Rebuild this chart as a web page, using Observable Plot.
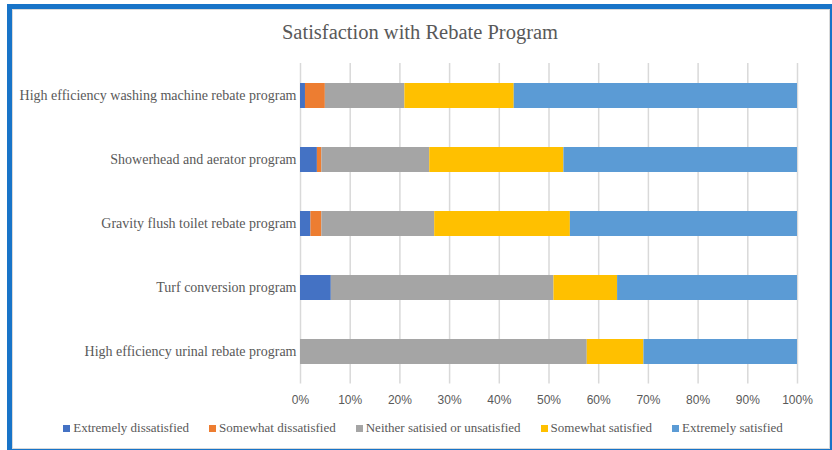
<!DOCTYPE html>
<html>
<head>
<meta charset="utf-8">
<script src="https://cdn.jsdelivr.net/npm/d3@7"></script>
<script src="https://cdn.jsdelivr.net/npm/@observablehq/plot@0.6"></script>
<style>
  html, body { margin: 0; padding: 0; background: #fff; }
  #wrap { position: relative; width: 832px; height: 450px; overflow: hidden; background: #fff; }
  #frame { position: absolute; left: 7px; top: 4px; width: 818px; height: 440px; border: 5px solid #1874C8; box-shadow: inset 0 0 0 1px #d9d9d9; }
  #title { position: absolute; left: 0; width: 840px; top: 21px; text-align: center; font-family: "Liberation Serif", "Times New Roman", serif; font-size: 20.5px; color: #595959; }
  #chart { position: absolute; left: 0; top: 0; }
  #legend { position: absolute; left: 0; width: 846px; top: 420px; display: flex; justify-content: center; gap: 20px; font-family: "Liberation Serif", "Times New Roman", serif; font-size: 13px; color: #595959; }
  #legend .item { display: flex; align-items: center; white-space: nowrap; font-family: "Liberation Serif", serif; }
  #legend .sw { width: 7px; height: 7px; margin-right: 3px; }
</style>
</head>
<body>
<div id="wrap">
  <div id="frame"></div>
  <div id="chart"></div>
  <div id="title">Satisfaction  with Rebate Program</div>
  <div id="legend"></div>
</div>
<script>
const programs = [
  "High efficiency washing machine rebate program",
  "Showerhead and aerator program",
  "Gravity flush toilet rebate program",
  "Turf conversion program",
  "High efficiency urinal rebate program"
];
const seriesNames = [
  "Extremely dissatisfied",
  "Somewhat dissatisfied",
  "Neither satisied or unsatisfied",
  "Somewhat satisfied",
  "Extremely satisfied"
];
const seriesColors = ["#4472C4", "#ED7D31", "#A5A5A5", "#FFC000", "#5B9BD5"];
// percent values per series, in the order of programs
const extremelyDissatisfied = [1.0, 3.4, 2.1, 6.2, 0];
const somewhatDissatisfied  = [4.0, 0.9, 2.2, 0, 0];
const neither               = [16.0, 21.7, 22.7, 44.8, 57.7];
const somewhatSatisfied     = [22.0, 27.0, 27.3, 12.8, 11.4];
const extremelySatisfied    = [57.0, 47.0, 45.7, 36.2, 30.9];
const xTicks = [0, 10, 20, 30, 40, 50, 60, 70, 80, 90, 100];

const seriesValues = [extremelyDissatisfied, somewhatDissatisfied, neither, somewhatSatisfied, extremelySatisfied];
const data = [];
seriesNames.forEach((s, si) => {
  programs.forEach((p, pi) => {
    data.push({program: p, series: s, value: seriesValues[si][pi]});
  });
});

const chart = Plot.plot({
  width: 832,
  height: 410,
  marginLeft: 300,
  marginRight: 35,
  marginTop: 63,
  marginBottom: 26.5,
  style: {background: "transparent", overflow: "visible"},
  x: {domain: [0, 100], ticks: xTicks, tickFormat: d => d + "%", label: null},
  y: {domain: programs, paddingInner: 0.61, paddingOuter: 0.305, label: null},
  color: {domain: seriesNames, range: seriesColors},
  marks: [
    Plot.gridX(xTicks, {stroke: "#D9D9D9", strokeOpacity: 1, strokeWidth: 1.5}),
    Plot.barX(data, {x: "value", y: "program", fill: "series", order: seriesNames, inset: 0}),
    Plot.axisX({ticks: xTicks, tickFormat: d => d + "%", tickSize: 0, tickPadding: 11,
      fontFamily: "Liberation Sans, Arial, sans-serif", fontSize: 12, fill: "#595959", label: null}),
    Plot.axisY({tickSize: 0, tickPadding: 4, fontFamily: "Liberation Serif, Times New Roman, serif",
      fontSize: 14, fill: "#595959", label: null})
  ]
});
document.getElementById("chart").appendChild(chart);

const legend = document.getElementById("legend");
seriesNames.forEach((s, i) => {
  const item = document.createElement("div");
  item.className = "item";
  const sw = document.createElement("span");
  sw.className = "sw";
  sw.style.background = seriesColors[i];
  const t = document.createElement("span");
  t.textContent = s;
  item.appendChild(sw);
  item.appendChild(t);
  legend.appendChild(item);
});
</script>
</body>
</html>
